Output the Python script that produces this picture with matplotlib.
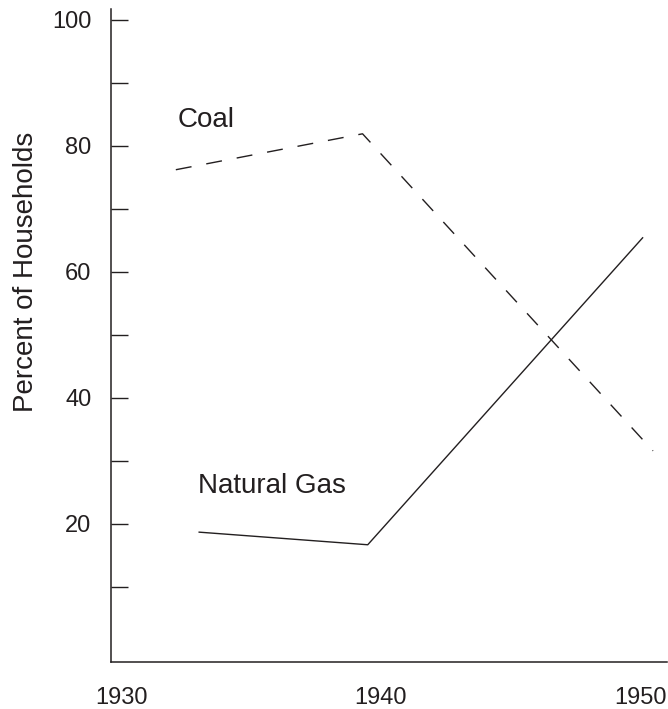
import matplotlib
matplotlib.use("Agg")
import matplotlib.pyplot as plt

# data
coal_years = [1932.1, 1939.3, 1950.5]
coal_pct = [76.2, 81.9, 31.6]
gas_years = [1933.0, 1939.5, 1950.1]
gas_pct = [18.7, 16.7, 65.4]

x_ticks = [1930, 1940, 1950]
y_ticks = [10, 20, 30, 40, 50, 60, 70, 80, 90, 100]
y_labels = ['', '20', '', '40', '', '60', '', '80', '', '100']

ink = '#231f20'
plt.rcParams['font.family'] = ['Liberation Sans', 'DejaVu Sans']

fig = plt.figure(figsize=(6.68, 7.09), dpi=100)
ax = fig.add_axes([111 / 668, 47 / 709, 556 / 668, 653 / 709])

ax.plot(coal_years, coal_pct, color=ink, lw=1.0, linestyle=(0, (11.5, 10.8)))
ax.plot(gas_years, gas_pct, color=ink, lw=1.0)

ax.text(1932.18, 83.0, 'Coal', fontsize=20, color=ink, ha='left', va='baseline')
ax.text(1932.95, 24.9, 'Natural Gas', fontsize=20, color=ink, ha='left', va='baseline')

ax.set_xlim(1929.6, 1951.04)
ax.set_ylim(-1.9, 101.7)

ax.spines['top'].set_visible(False)
ax.spines['right'].set_visible(False)
for s in ['left', 'bottom']:
    ax.spines[s].set_linewidth(1.1)
    ax.spines[s].set_color(ink)

ax.set_xticks(x_ticks)
ax.set_xticklabels([str(v) for v in x_ticks])
ax.set_yticks(y_ticks)
ax.set_yticklabels(y_labels)
ax.tick_params(axis='x', length=0, pad=18, labelsize=17, colors=ink)
ax.tick_params(axis='y', direction='in', length=12.2, width=1.0, pad=14,
               labelsize=17, colors=ink)

ax.set_ylabel('Percent of Households', fontsize=20, color=ink)
ax.yaxis.set_label_coords(-0.130, 0.597)

fig.savefig('out.png', dpi=100)
